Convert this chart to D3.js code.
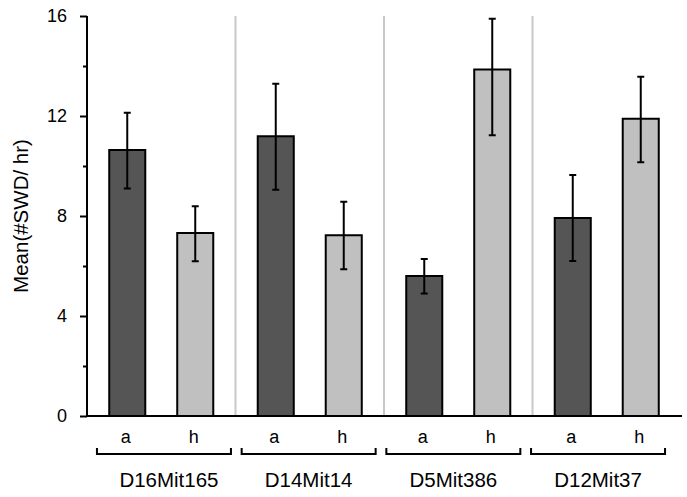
<!DOCTYPE html>
<html><head><meta charset="utf-8">
<script src="https://cdn.jsdelivr.net/npm/d3@7"></script>
<style>body{margin:0;background:#fff}svg{display:block;font-family:"Liberation Sans",Arial,sans-serif}</style>
</head><body><svg id="c" width="687" height="497"></svg>
<script>
const markers = ["D16Mit165","D14Mit14","D5Mit386","D12Mit37"];
const genotypes = ["a","h"];
const meanA = [10.64, 11.19, 5.60, 7.92];
const meanH = [7.32, 7.23, 13.86, 11.89];
const upperA = [12.13, 13.29, 6.28, 9.64];
const lowerA = [9.10, 9.05, 4.90, 6.20];
const upperH = [8.39, 8.57, 15.89, 13.57];
const lowerH = [6.19, 5.87, 11.23, 10.15];
const yTicks = [0,4,8,12,16];
const yMinor = [2,6,10,14];

const rows = [];
markers.forEach((m,i)=>{
  rows.push({m, g:"a", v:meanA[i], lo:lowerA[i], hi:upperA[i]});
  rows.push({m, g:"h", v:meanH[i], lo:lowerH[i], hi:upperH[i]});
});

const svg = d3.select("#c");
const x0 = 87, x1 = 681, yTop = 16, yBot = 416;
const y = d3.scaleLinear().domain([0,16]).range([yBot,yTop]);
const gx = d3.scaleBand().domain(markers).range([x0,x1]).padding(0);
const ix = d3.scaleBand().domain(genotypes).range([0,gx.bandwidth()]).paddingInner(0.47).paddingOuter(0.327);
const fill = {a:"#555555", h:"#c0c0c0"};

// separators
svg.append("g").selectAll("line").data(markers.slice(1)).join("line")
  .attr("x1",d=>gx(d)).attr("x2",d=>gx(d)).attr("y1",yTop).attr("y2",yBot)
  .attr("stroke","#c8c8c8").attr("stroke-width",2);

// bars
svg.append("g").selectAll("rect").data(rows).join("rect")
  .attr("x",d=>gx(d.m)+ix(d.g)).attr("width",ix.bandwidth())
  .attr("y",d=>y(d.v)).attr("height",d=>y(0)-y(d.v))
  .attr("fill",d=>fill[d.g]).attr("stroke","#000").attr("stroke-width",2);

// error bars
const eb = svg.append("g").attr("stroke","#000").attr("stroke-width",2);
rows.forEach(d=>{
  const cx = gx(d.m)+ix(d.g)+ix.bandwidth()/2;
  eb.append("line").attr("x1",cx).attr("x2",cx).attr("y1",y(d.lo)).attr("y2",y(d.hi));
  [d.lo,d.hi].forEach(v=>eb.append("line").attr("x1",cx-3.5).attr("x2",cx+3.5).attr("y1",y(v)).attr("y2",y(v)));
});

// y axis
const ya = svg.append("g").attr("transform",`translate(${x0},0)`)
  .call(d3.axisLeft(y).tickValues(yTicks).tickSize(7).tickPadding(13).tickFormat(d3.format("d")));
ya.select(".domain").attr("stroke-width",2).attr("d",`M-0,${yTop}H0V${yBot}`);
ya.selectAll(".tick line").attr("stroke-width",2);
ya.selectAll(".tick text").attr("font-size",18).attr("font-family","Liberation Sans, Arial, sans-serif").attr("fill","#000");
const ym = svg.append("g").attr("transform",`translate(${x0},0)`)
  .call(d3.axisLeft(y).tickValues(yMinor).tickSize(4).tickFormat(""));
ym.select(".domain").remove();
ym.selectAll(".tick line").attr("stroke-width",2);

// x axis line
svg.append("line").attr("x1",x0-1).attr("x2",x1+1).attr("y1",yBot).attr("y2",yBot)
  .attr("stroke","#000").attr("stroke-width",2);

// genotype labels
svg.append("g").selectAll("text").data(rows).join("text")
  .attr("x",d=>gx(d.m)+ix(d.g)+ix.bandwidth()/2-1.5).attr("y",443)
  .attr("text-anchor","middle").attr("font-size",18).text(d=>d.g);

// brackets
const bx = d3.scaleBand().domain(markers).range([91.6,670.4]).paddingInner(0.074).paddingOuter(0.037);
const br = svg.append("g").attr("fill","none").attr("stroke","#000").attr("stroke-width",2);
markers.forEach(m=>{
  const a = bx(m), b = bx(m)+bx.bandwidth();
  br.append("path").attr("d",`M${a},448V454H${b}V448`);
});
svg.append("g").selectAll("text").data(markers).join("text")
  .attr("x",d=>bx(d)+bx.bandwidth()/2+(d===markers[0]?5:0)).attr("y",487)
  .attr("text-anchor","middle").attr("font-size",20.5).text(d=>d);

// y title
svg.append("text").attr("transform",`translate(27.5,216) rotate(-90)`)
  .attr("text-anchor","middle").attr("font-size",20.5).text("Mean(#SWD/ hr)");
</script></body></html>
